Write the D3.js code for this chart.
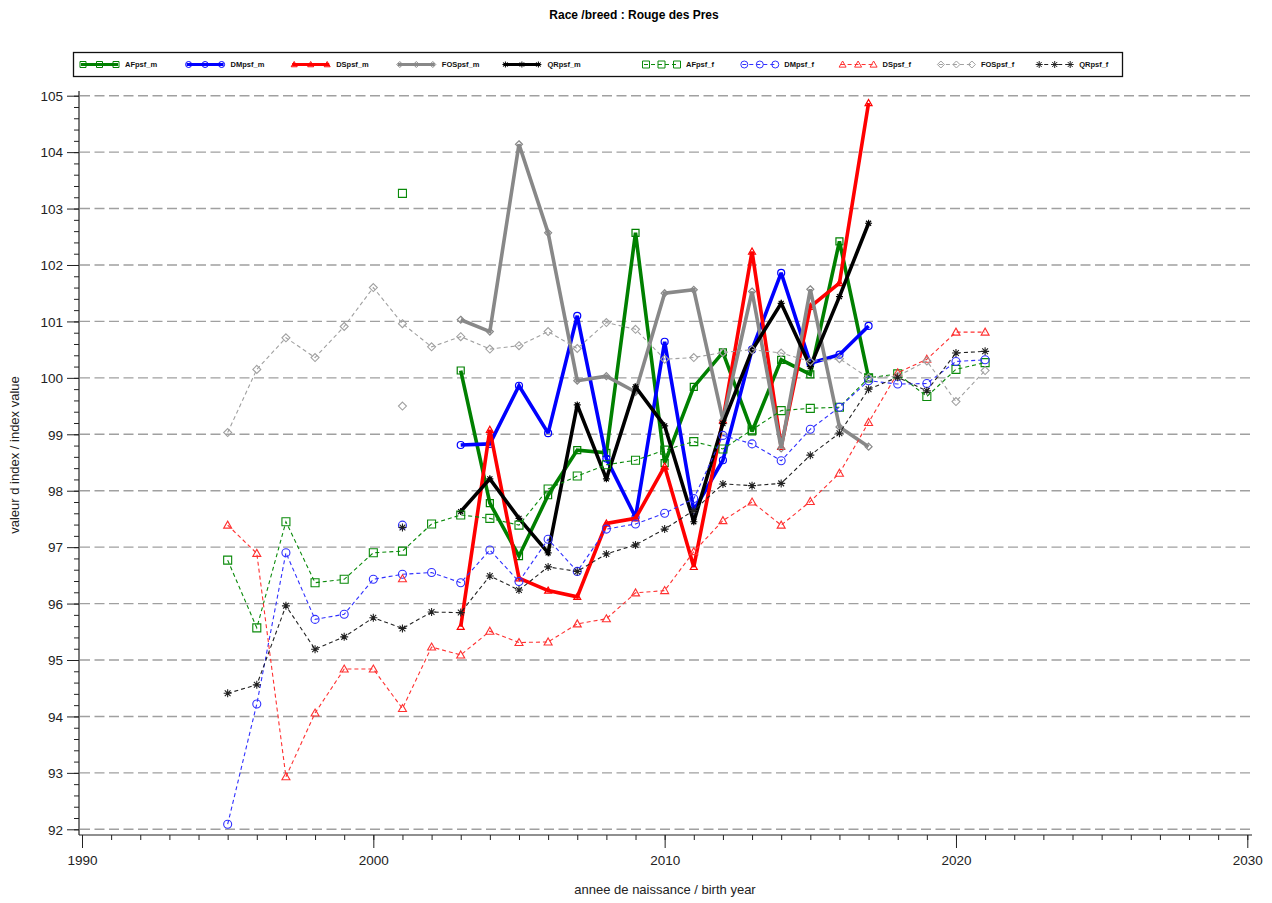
<!DOCTYPE html>
<html><head><meta charset="utf-8">
<script src="https://cdn.jsdelivr.net/npm/d3@7"></script>
<style>
body{margin:0;background:#fff}
text{font-family:"Liberation Sans",Arial,Helvetica,sans-serif}
</style>
</head><body>
<svg id="chart" width="1272" height="903"></svg>
<script>
// ---------- DATA ----------
const titleText = "Race /breed : Rouge des Pres";
const xTitle = "annee de naissance / birth year";
const yTitle = "valeur d index / index value";

const xMajorTicks = [1990, 2000, 2010, 2020, 2030];
const yMajorTicks = [92, 93, 94, 95, 96, 97, 98, 99, 100, 101, 102, 103, 104, 105];

const yearsM = [2003, 2004, 2005, 2006, 2007, 2008, 2009, 2010, 2011, 2012, 2013, 2014, 2015, 2016, 2017];
const yearsF = [1995, 1996, 1997, 1998, 1999, 2000, 2001, 2002, 2003, 2004, 2005, 2006, 2007, 2008,
                2009, 2010, 2011, 2012, 2013, 2014, 2015, 2016, 2017, 2018, 2019, 2020, 2021];

const AFpsf_m  = [100.13, 97.78, 96.84, 97.92, 98.72, 98.67, 102.57, 98.49, 99.84, 100.45, 99.05, 100.32, 100.06, 102.42, 100.00];
const DMpsf_m  = [98.81, 98.83, 99.86, 99.02, 101.10, 98.57, 97.53, 100.64, 97.65, 98.54, 100.50, 101.86, 100.26, 100.41, 100.92];
const DSpsf_m  = [95.59, 99.08, 96.45, 96.23, 96.12, 97.42, 97.51, 98.43, 96.65, 99.25, 102.24, 98.78, 101.26, 101.68, 104.87];
const FOSpsf_m = [101.03, 100.82, 104.14, 102.57, 99.95, 100.03, 99.75, 101.50, 101.56, 99.25, 101.53, 98.75, 101.57, 99.13, 98.78];
const QRpsf_m  = [97.63, 98.21, 97.51, 96.90, 99.52, 98.21, 99.84, 99.15, 97.45, 99.19, 100.49, 101.32, 100.20, 101.44, 102.74];

const AFpsf_f  = [96.77, 95.57, 97.45, 96.37, 96.43, 96.90, 96.93, 97.41, 97.57, 97.51, 97.39, 98.03, 98.26, 98.46,
                  98.54, 98.72, 98.87, 98.74, 99.08, 99.42, 99.46, 99.48, 100.00, 100.07, 99.67, 100.15, 100.27];
const DMpsf_f  = [92.09, 94.22, 96.90, 95.72, 95.81, 96.43, 96.52, 96.55, 96.37, 96.95, 96.39, 97.14, 96.57, 97.32,
                  97.41, 97.60, 97.86, 98.98, 98.83, 98.53, 99.09, 99.48, 99.95, 99.89, 99.90, 100.29, 100.32];
const DSpsf_f  = [97.39, 96.89, 92.93, 94.06, 94.84, 94.84, 94.14, 95.23, 95.09, 95.51, 95.31, 95.32, 95.64, 95.73,
                  96.19, 96.23, 96.92, 97.47, 97.80, 97.39, 97.81, 98.31, 99.21, 100.09, 100.33, 100.81, 100.81];
const FOSpsf_f = [99.03, 100.15, 100.71, 100.36, 100.91, 101.60, 100.96, 100.55, 100.73, 100.51, 100.57, 100.82, 100.52, 100.98,
                  100.86, 100.33, 100.36, 100.45, 100.50, 100.44, 100.29, 100.34, 100.00, 100.03, 100.30, 99.58, 100.13];
const QRpsf_f  = [94.41, 94.56, 95.96, 95.19, 95.41, 95.75, 95.56, 95.85, 95.84, 96.49, 96.24, 96.65, 96.57, 96.88,
                  97.04, 97.32, 97.65, 98.12, 98.09, 98.13, 98.63, 99.02, 99.80, 100.01, 99.77, 100.44, 100.47];

// isolated extra points (year 2001) of the female series
const extraYear = 2001;
const extraF = {AFpsf_f: 103.27, DMpsf_f: 97.39, DSpsf_f: 96.44, FOSpsf_f: 99.50, QRpsf_f: 97.35};

const seriesNames = ["AFpsf_m","DMpsf_m","DSpsf_m","FOSpsf_m","QRpsf_m","AFpsf_f","DMpsf_f","DSpsf_f","FOSpsf_f","QRpsf_f"];

// ---------- STYLE ----------
const styleM = {
  AFpsf_m:  {values: AFpsf_m,  color: "#008000", shape: "square"},
  DMpsf_m:  {values: DMpsf_m,  color: "#0000ff", shape: "circle"},
  DSpsf_m:  {values: DSpsf_m,  color: "#ff0000", shape: "triangle"},
  FOSpsf_m: {values: FOSpsf_m, color: "#888888", shape: "diamond"},
  QRpsf_m:  {values: QRpsf_m,  color: "#000000", shape: "star"}
};
const styleF = {
  AFpsf_f:  {values: AFpsf_f,  color: "#0a8a0a", shape: "square"},
  DMpsf_f:  {values: DMpsf_f,  color: "#3030ff", shape: "circle"},
  DSpsf_f:  {values: DSpsf_f,  color: "#ff3030", shape: "triangle"},
  FOSpsf_f: {values: FOSpsf_f, color: "#a0a0a0", shape: "diamond"},
  QRpsf_f:  {values: QRpsf_f,  color: "#222222", shape: "star"}
};

function markerPath(shape, s) {
  const h = s / 2;
  switch (shape) {
    case "square": return `M${-h},${-h}H${h}V${h}H${-h}Z`;
    case "circle": return `M${h},0A${h},${h} 0 1,1 ${-h},0A${h},${h} 0 1,1 ${h},0Z`;
    case "triangle": return `M0,${-h}L${h},${h*0.75}L${-h},${h*0.75}Z`;
    case "diamond": return `M0,${-h}L${h},0L0,${h}L${-h},0Z`;
    case "star": {
      const d = h * 0.72;
      return `M0,${-h}V${h}M${-h},0H${h}M${-d},${-d}L${d},${d}M${-d},${d}L${d},${-d}`;
    }
  }
}

// ---------- CHART ----------
const svg = d3.select("#chart");
const x = d3.scaleLinear().domain([1990, 2030]).range([82, 1247.3]);
const y = d3.scaleLinear().domain([92, 105]).range([829.3, 95.7]);

const axisX0 = 79, axisY0 = 835, plotRight = 1252;

// title
svg.append("text").attr("x", 634).attr("y", 19).attr("text-anchor", "middle")
  .attr("font-size", 12).attr("font-weight", "bold").text(titleText);

// grid
svg.append("g").selectAll("line").data(yMajorTicks).join("line")
  .attr("x1", axisX0 + 1).attr("x2", plotRight)
  .attr("y1", d => y(d)).attr("y2", d => y(d))
  .attr("stroke", "#a0a0a0").attr("stroke-width", 1.4).attr("stroke-dasharray", "10,4.5");

// y axis
const gy = svg.append("g").attr("transform", `translate(${axisX0},0)`);
gy.call(d3.axisLeft(y).tickValues(d3.range(92, 105.001, 0.2)).tickSize(5).tickFormat(""));
gy.call(g => g.select(".domain").remove());
const gy2 = svg.append("g").attr("transform", `translate(${axisX0},0)`);
gy2.call(d3.axisLeft(y).tickValues(yMajorTicks).tickSize(12).tickPadding(4).tickFormat(d3.format("d")));
gy2.select(".domain").remove();
gy2.selectAll("text").attr("font-size", 13.5).attr("fill", "#222").attr("dy", "0.35em")
  .attr("font-family", '"Liberation Sans",Arial,sans-serif');
svg.selectAll(".tick line").attr("stroke", "#222");
svg.append("line").attr("x1", axisX0).attr("x2", axisX0).attr("y1", 91).attr("y2", axisY0)
  .attr("stroke", "#222").attr("stroke-width", 1.2);

// x axis
const gx = svg.append("g").attr("transform", `translate(0,${axisY0})`);
gx.call(d3.axisBottom(x).ticks(40).tickSize(5).tickFormat(""));
gx.select(".domain").remove();
const gx2 = svg.append("g").attr("transform", `translate(0,${axisY0})`);
gx2.call(d3.axisBottom(x).tickValues(xMajorTicks).tickSize(13).tickPadding(7).tickFormat(d3.format("d")));
gx2.select(".domain").remove();
gx2.selectAll("text").attr("font-size", 13.5).attr("fill", "#222")
  .attr("font-family", '"Liberation Sans",Arial,sans-serif');
svg.selectAll(".tick line").attr("stroke", "#222");
svg.append("line").attr("x1", axisX0).attr("x2", plotRight).attr("y1", axisY0).attr("y2", axisY0)
  .attr("stroke", "#222").attr("stroke-width", 1.2);

// axis titles
svg.append("text").attr("x", 665).attr("y", 894).attr("text-anchor", "middle")
  .attr("font-size", 13).attr("fill", "#222").text(xTitle);
svg.append("text").attr("transform", "translate(19,455) rotate(-90)").attr("text-anchor", "middle")
  .attr("font-size", 13).attr("fill", "#222").text(yTitle);

const line = d3.line().x(d => x(d[0])).y(d => y(d[1]));

// male series (thick)
for (const name of seriesNames.slice(0, 5)) {
  const s = styleM[name];
  const pts = yearsM.map((yr, i) => [yr, s.values[i]]);
  const g = svg.append("g");
  g.append("path").attr("d", line(pts)).attr("fill", "none").attr("stroke", s.color)
    .attr("stroke-width", 3.6).attr("stroke-linejoin", "miter").attr("stroke-miterlimit", 2.5);
  g.selectAll("path.m").data(pts).join("path").attr("class", "m")
    .attr("transform", d => `translate(${x(d[0])},${y(d[1])})`)
    .attr("d", markerPath(s.shape, 7)).attr("fill", "none").attr("stroke", s.color).attr("stroke-width", 1.2);
}

// female series (thin dashed)
for (const name of seriesNames.slice(5)) {
  const s = styleF[name];
  const pts = yearsF.map((yr, i) => [yr, s.values[i]]);
  const g = svg.append("g");
  g.append("path").attr("d", line(pts)).attr("fill", "none").attr("stroke", s.color)
    .attr("stroke-width", 1.1).attr("stroke-dasharray", "4,3");
  const all = pts.concat([[extraYear, extraF[name]]]);
  g.selectAll("path.m").data(all).join("path").attr("class", "m")
    .attr("transform", d => `translate(${x(d[0])},${y(d[1])})`)
    .attr("d", markerPath(s.shape, 8)).attr("fill", "none").attr("stroke", s.color).attr("stroke-width", 1.1);
}

// legend
const lg = svg.append("g");
lg.append("rect").attr("x", 73.5).attr("y", 52.5).attr("width", 1049).attr("height", 24)
  .attr("fill", "#fff").attr("stroke", "#111").attr("stroke-width", 1.3);
seriesNames.forEach((name, i) => {
  const male = i < 5;
  const s = male ? styleM[name] : styleF[name];
  const x0 = male ? 81 + i * 105.6 : 644 + (i - 5) * 98.3;
  const w = male ? 37 : 35;
  const ly = 64.5;
  const g = lg.append("g");
  g.append("line").attr("x1", x0).attr("x2", x0 + w).attr("y1", ly).attr("y2", ly)
    .attr("stroke", s.color).attr("stroke-width", male ? 3 : 1.1)
    .attr("stroke-dasharray", male ? null : "4,3");
  [x0 + 2, x0 + w / 2, x0 + w - 2].forEach(mx => {
    g.append("path").attr("transform", `translate(${mx},${ly})`)
      .attr("d", markerPath(s.shape, male ? 6 : 7)).attr("fill", "none")
      .attr("stroke", s.color).attr("stroke-width", 1);
  });
  g.append("text").attr("x", x0 + w + 7).attr("y", ly + 2.5).attr("font-size", 7.5)
    .attr("font-weight", "bold").attr("fill", "#111").text(name);
});
</script>
</body></html>
